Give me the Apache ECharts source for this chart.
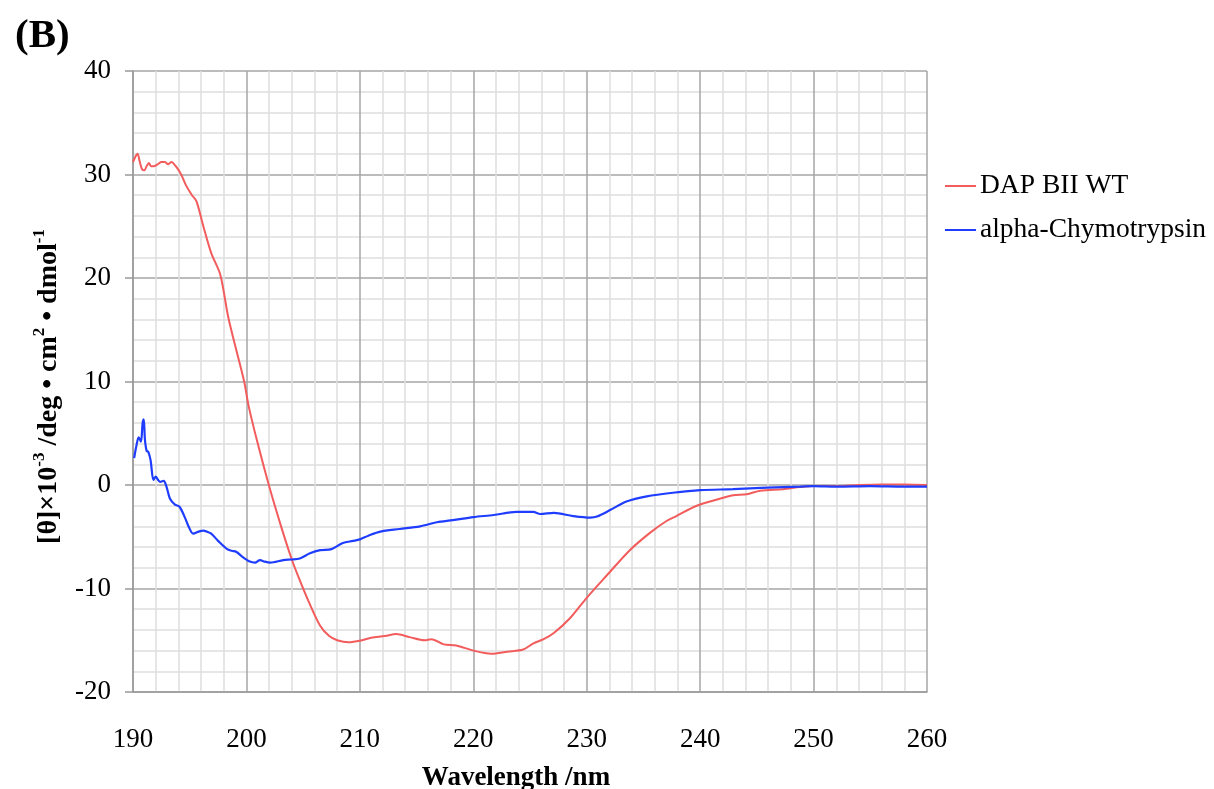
<!DOCTYPE html>
<html><head><meta charset="utf-8">
<script src="https://cdn.jsdelivr.net/npm/echarts@6/dist/echarts.min.js"></script>
<style>html,body{margin:0;padding:0;background:#fff}#c{width:1214px;height:789px}</style>
</head><body><div id="c"></div>
<script>
// DAP BII WT (red)
const dapX = [190.0,190.2,190.4,190.6,190.8,191.0,191.2,191.4,191.6,191.8,192.2,192.5,192.8,193.1,193.4,193.7,194.2,194.7,195.2,195.6,196.2,196.9,197.7,198.4,199.0,199.8,200.2,201.0,202.0,203.0,204.0,204.7,205.5,206.5,207.3,208.0,209.0,210.2,211.0,212.2,213.2,214.4,215.7,216.3,217.4,218.5,220.0,221.6,223.0,224.4,225.3,226.2,227.1,228.5,230.0,231.8,233.8,235.6,237.0,237.9,239.7,241.5,242.9,244.1,245.3,247.3,248.8,250.0,252.0,254.0,256.0,258.0,260.0];
const dapY = [31.2,31.7,32.0,31.2,30.5,30.4,30.8,31.1,30.8,30.8,31.0,31.2,31.2,31.0,31.2,30.9,30.1,28.9,28.0,27.4,25.0,22.4,20.3,16.2,13.5,10.0,7.6,4.0,-0.1,-3.8,-7.2,-9.2,-11.3,-13.6,-14.6,-15.0,-15.2,-15.0,-14.75,-14.6,-14.4,-14.7,-15.0,-14.9,-15.4,-15.5,-16.0,-16.3,-16.1,-15.9,-15.3,-14.9,-14.3,-12.9,-10.9,-8.7,-6.3,-4.6,-3.5,-3.0,-2.0,-1.4,-1.0,-0.9,-0.55,-0.4,-0.2,-0.1,-0.1,0.0,0.05,0.05,0.0];
// alpha-Chymotrypsin (blue)
const chyX = [190.1,190.3,190.5,190.7,190.85,190.95,191.05,191.2,191.35,191.55,191.8,192.0,192.2,192.4,192.7,192.95,193.25,193.7,194.1,194.6,194.9,195.3,195.8,196.2,196.5,196.9,197.5,198.3,198.7,199.1,199.6,200.3,200.75,201.2,201.6,202.1,203.25,204.0,204.7,205.6,206.5,207.5,208.5,209.4,210.0,210.75,211.8,213.5,215.3,216.8,218.2,220.0,221.8,223.8,225.3,225.9,227.1,228.8,230.3,230.9,232.1,233.5,235.3,237.6,240.0,242.9,245.9,248.8,250.0,252.0,255.0,258.0,260.0];
const chyY = [2.6,3.8,4.6,4.2,6.0,6.35,4.4,3.3,3.2,2.4,0.5,0.8,0.5,0.3,0.4,-0.15,-1.3,-1.9,-2.1,-3.2,-4.0,-4.7,-4.5,-4.4,-4.5,-4.7,-5.4,-6.2,-6.35,-6.45,-6.9,-7.4,-7.5,-7.25,-7.4,-7.5,-7.25,-7.2,-7.1,-6.6,-6.3,-6.2,-5.6,-5.4,-5.25,-4.9,-4.5,-4.25,-4.0,-3.6,-3.4,-3.1,-2.9,-2.6,-2.6,-2.8,-2.7,-3.0,-3.15,-3.05,-2.4,-1.6,-1.1,-0.75,-0.5,-0.4,-0.25,-0.15,-0.1,-0.15,-0.1,-0.15,-0.15];
const seriesNames = ['DAP BII WT', 'alpha-Chymotrypsin'];

const zip = (xs, ys) => xs.map((x, i) => [x, ys[i]]);
const FONT = '"Liberation Serif", "Times New Roman", serif';
const chart = echarts.init(document.getElementById('c'), null, {renderer: 'canvas'});
chart.setOption({
  animation: false,
  backgroundColor: '#fff',
  title: {text: '(B)', left: 10, top: 11, textStyle: {fontFamily: FONT, fontSize: 41, fontWeight: 'bold', color: '#000'}},
  legend: {
    orient: 'vertical', left: 940, top: 167, itemGap: 16, itemWidth: 31, itemHeight: 2, icon: 'rect',
    data: seriesNames,
    textStyle: {fontFamily: FONT, fontSize: 27.5, color: '#000', padding: [0, 0, 0, -1]}
  },
  grid: {left: 133, top: 71, right: 287, bottom: 97, containLabel: false, outerBoundsMode: 'none'},
  xAxis: {
    type: 'value', min: 190, max: 260, interval: 10,
    name: 'Wavelength /nm', nameLocation: 'middle', nameGap: 73,
    nameTextStyle: {fontFamily: FONT, fontSize: 27, fontWeight: 'bold', color: '#000', padding: [0, 28, 0, 0]},
    axisLine: {onZero: false, lineStyle: {color: '#999', width: 1.5}},
    axisTick: {show: false},
    axisLabel: {fontFamily: FONT, fontSize: 27, color: '#000', margin: 34},
    splitLine: {show: true, lineStyle: {color: '#a6a6a6', width: 1.5}},
    minorTick: {show: false, splitNumber: 5},
    minorSplitLine: {show: true, lineStyle: {color: '#dedede', width: 1.5}}
  },
  yAxis: {
    type: 'value', min: -20, max: 40, interval: 10,
    name: '{n|[θ]×10}{s|-3}{n| /deg • cm}{s|2}{n| • dmol}{s|-1}', nameLocation: 'middle', nameGap: 70, nameRotate: 90,
    nameTextStyle: {
      color: '#000', padding: [0, 10, 0, 0],
      rich: {
        n: {fontFamily: FONT, fontSize: 28, fontWeight: 'bold', color: '#000', lineHeight: 32, verticalAlign: 'bottom'},
        s: {fontFamily: FONT, fontSize: 17, fontWeight: 'bold', color: '#000', lineHeight: 17, verticalAlign: 'top'}
      }
    },
    axisLine: {show: true, onZero: false, lineStyle: {color: '#999', width: 1.5}},
    axisTick: {show: true, length: 8, lineStyle: {color: '#999', width: 1.5}},
    axisLabel: {fontFamily: FONT, fontSize: 27, color: '#000', margin: 22},
    splitLine: {show: true, lineStyle: {color: '#a6a6a6', width: 1.5}},
    minorTick: {show: false, splitNumber: 5},
    minorSplitLine: {show: true, lineStyle: {color: '#dedede', width: 1.5}}
  },
  series: [
    {name: seriesNames[0], type: 'line', data: zip(dapX, dapY), showSymbol: false, symbol: 'none', smooth: 0.3,
     lineStyle: {color: '#f25c5c', width: 2}, itemStyle: {color: '#f25c5c'}, z: 3},
    {name: seriesNames[1], type: 'line', data: zip(chyX, chyY), showSymbol: false, symbol: 'none', smooth: 0.3,
     lineStyle: {color: '#1f3dff', width: 2.2}, itemStyle: {color: '#1f3dff'}, z: 4}
  ]
});
</script></body></html>
